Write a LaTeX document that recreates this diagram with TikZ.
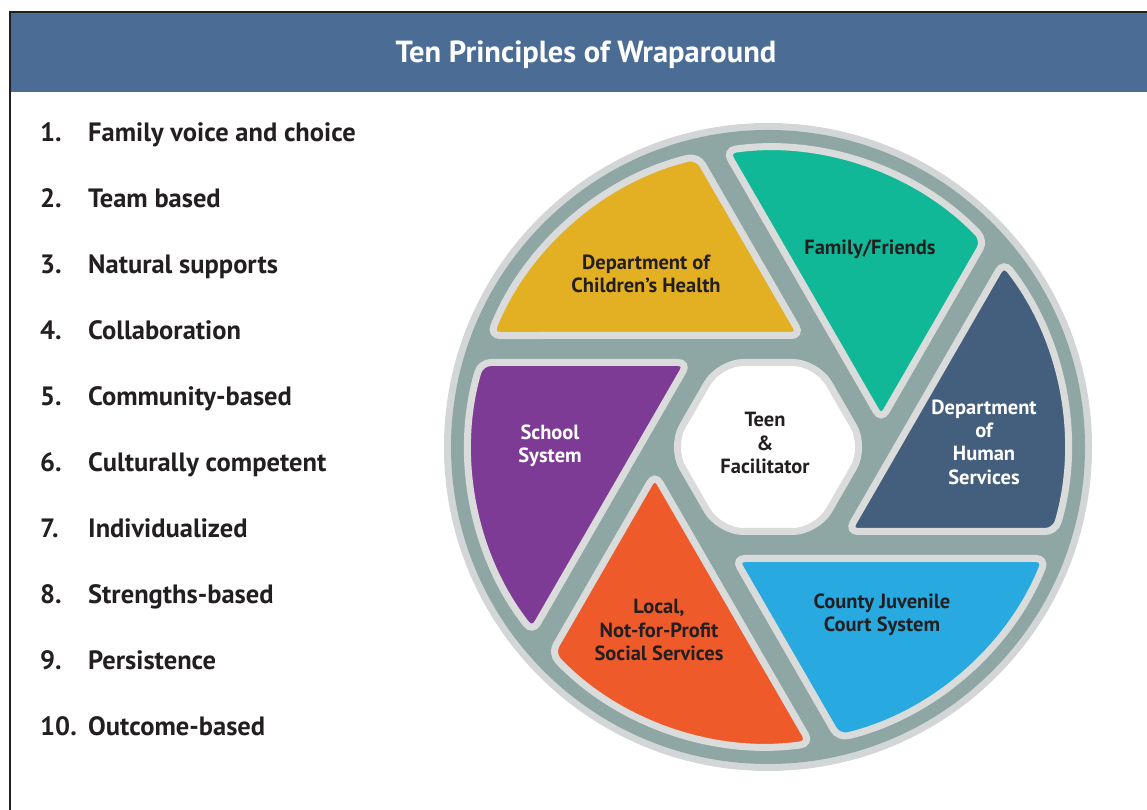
\documentclass[tikz,border=0pt]{standalone}
\usepackage{fontspec}
\setmainfont{PT Sans}
\usepackage{tikz}
\usetikzlibrary{calc}

\definecolor{hdrblue}{HTML}{4B6D95}
\definecolor{framedark}{HTML}{231F20}
\definecolor{inkdark}{HTML}{231F20}
\definecolor{ringgray}{HTML}{D3D6D6}
\definecolor{ringteal}{HTML}{8EA6A4}
\definecolor{rimgray}{HTML}{DADBDB}
\definecolor{bladeyellow}{HTML}{E3AF23}
\definecolor{bladegreen}{HTML}{10B898}
\definecolor{bladeslate}{HTML}{435F7D}
\definecolor{bladesky}{HTML}{28A9E0}
\definecolor{bladeorange}{HTML}{EF5A2A}
\definecolor{bladepurple}{HTML}{7E3B96}

\begin{document}
\begin{tikzpicture}[x=1pt, y=1pt,
  listtext/.style={font=\fontsize{26.5}{30}\selectfont\bfseries, text=inkdark, inner sep=0pt, anchor=base west},
  blade/.style={draw=rimgray, line width=7pt, rounded corners=10pt},
  bladetext/.style={font=\fontsize{20.5}{23.3}\selectfont\bfseries, align=center, inner sep=0pt, text=inkdark}
]
\useasboundingbox (0,0) rectangle (1147,810);

% sizes
\def\rout{324}    % outer rim
\def\rin{317}     % teal ring
\def\rb{299.5}    % blade arc
\def\apo{98}      % apothem of the gap lines
\def\off{13.5}    % half gap

% frame and header
\fill[hdrblue] (11,718) rectangle (1147,797);
\draw[framedark, line width=2.5pt] (10,0) -- (10,798) -- (1147,798);
\node[font=\fontsize{30.5}{34}\selectfont\bfseries, text=white] (title) at (586,755) {Ten Principles of Wraparound};

% list of principles
\foreach \i/\txt in {1/Family voice and choice, 2/Team based, 3/Natural supports,
  4/Collaboration, 5/Community-based, 6/Culturally competent, 7/Individualized,
  8/Strengths-based, 9/Persistence, 10/Outcome-based}{
  \node[listtext] (num\i) at (40, {668.5-66*(\i-1)}) {\i.};
  \node[listtext] (item\i) at (88, {668.5-66*(\i-1)}) {\txt};
}

% wheel
\coordinate (O) at (768,363);
\fill[ringgray] (O) circle (\rout);
\fill[ringteal] (O) circle (\rin);

\begin{scope}[shift={(O)}]
  \pgfmathsetmacro\tipx{(0.5*\apo-1.5*\off)/cos(30)}
  \pgfmathsetmacro\tipy{\apo+\off}
  \pgfmathsetmacro\angA{30+acos((\apo-\off)/\rb)}
  \pgfmathsetmacro\angB{180-asin((\apo+\off)/\rb)}
  \pgfmathsetmacro\hexr{(\apo-\off)/cos(30)}
  % six blades
  \foreach \rot/\col in {0/bladeyellow, -60/bladegreen, -120/bladeslate,
    -180/bladesky, -240/bladeorange, -300/bladepurple}
    \filldraw[blade, fill=\col, rotate=\rot]
      (\tipx,\tipy) -- (\angA:\rb) arc[start angle=\angA, end angle=\angB, radius=\rb] -- cycle;
  % hub
  \filldraw[blade, fill=white, rounded corners=24pt]
    (0:\hexr) \foreach \k in {1,...,5}{ -- (\k*60:\hexr)} -- cycle;
\end{scope}

% labels
\node[bladetext] (hub) at ($(O)+(-3,4)$) {Teen\\\&\\Facilitator};
\node[bladetext] (dch) at ($(O)+(-122,173)$) {Department of\\Children’s Health};
\node[bladetext] (family) at ($(O)+(102,198)$) {Family/Friends};
\node[bladetext, text=white] (dhs) at ($(O)+(216,5)$) {Department\\of\\Human\\Services};
\node[bladetext] (court) at ($(O)+(114,-168)$) {County Juvenile\\Court System};
\node[bladetext] (local) at ($(O)+(-109,-183)$) {Local,\\Not-for-Profit\\Social Services};
\node[bladetext, text=white] (school) at ($(O)+(-218,1)$) {School\\System};

\end{tikzpicture}
\end{document}
